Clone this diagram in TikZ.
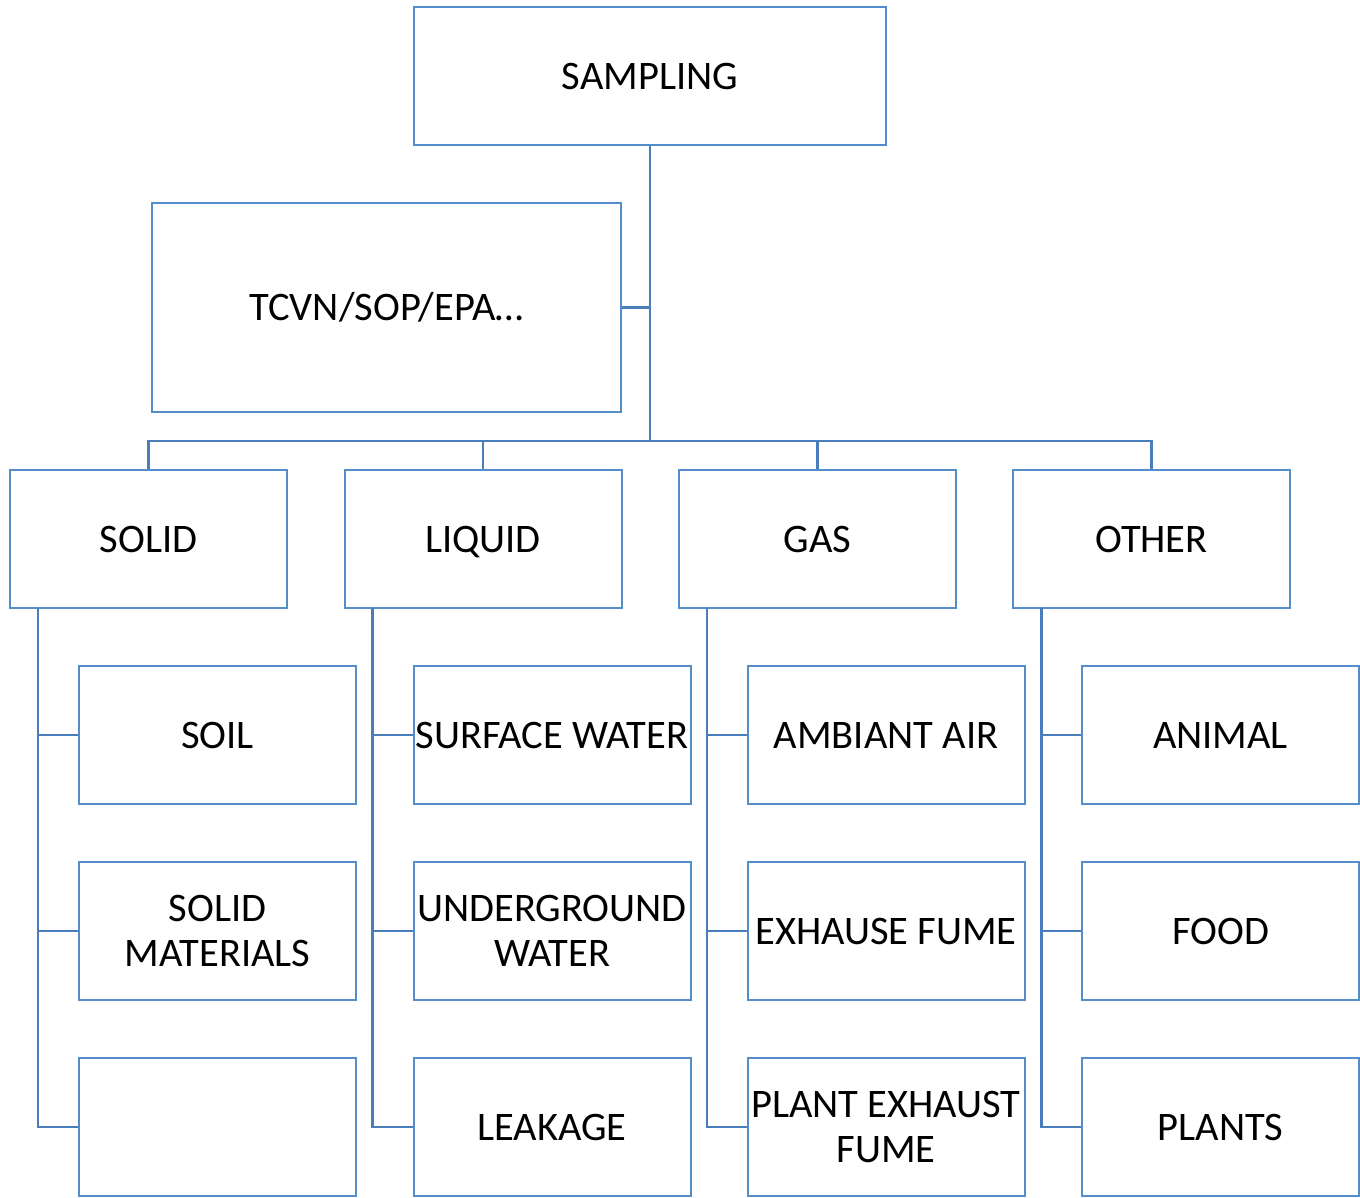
\documentclass[tikz,border=0pt]{standalone}
\usepackage{fontspec}
\setmainfont{Carlito}
\definecolor{boxblue}{RGB}{84,141,203}
\definecolor{linkblue}{RGB}{74,126,187}
\begin{document}
\begin{tikzpicture}[x=1pt,y=-1pt,
  box/.style={draw=boxblue,line width=2pt,fill=white,minimum width=#1,inner sep=0pt,align=center,font=\fontsize{40.5}{45}\selectfont},
  link/.style={draw=linkblue,line width=2.2pt}]
\useasboundingbox (0,0) rectangle (1360,1197);
% top
\node[box=472pt,minimum height=138pt] (samp) at (650,76) {SAMPLING};
\node[box=469pt,minimum height=209pt] (tcvn) at (386.5,307.5) {TCVN/SOP/EPA…};
% level 2
\foreach \n/\x/\t in {solid/148.5/SOLID, liquid/483/LIQUID, gas/817.5/GAS, other/1151.5/OTHER}{
  \node[box=277pt,minimum height=138pt,text depth=0pt] (\n) at (\x,539) {\t};
}
% leaves
\foreach \n/\x/\y/\t in {
  soil/217.5/735/SOIL, solm/217.5/931/{SOLID\\MATERIALS}, emp/217.5/1127/{},
  surf/552/735/SURFACE WATER, under/552/931/{UNDERGROUND\\WATER}, leak/552/1127/LEAKAGE,
  amb/886/735/AMBIANT AIR, exh/886/931/EXHAUSE FUME, plant/886/1127/{PLANT EXHAUST\\FUME},
  anim/1220.5/735/ANIMAL, food/1220.5/931/FOOD, plants/1220.5/1127/PLANTS}{
  \node[box=277pt,minimum height=138pt] (\n) at (\x,\y) {\t};
}
% connectors
\coordinate (j) at (650,441);
\draw[link] (samp.south) -- (j);
\draw[link] (tcvn.east) -- (tcvn.east -| samp.south);
\draw[link] (solid.north) |- (j) -| (other.north);
\draw[link] (liquid.north) -- (liquid.north |- j);
\draw[link] (gas.north) -- (gas.north |- j);
\foreach \p/\a/\b/\c/\xx in {solid/soil/solm/emp/38, liquid/surf/under/leak/372.5, gas/amb/exh/plant/707, other/anim/food/plants/1041.5}{
  \draw[link] (\xx,608) -- (\xx,1127) -- (\c.west);
  \draw[link] (\xx,735) -- (\a.west);
  \draw[link] (\xx,931) -- (\b.west);
}
\end{tikzpicture}
\end{document}
